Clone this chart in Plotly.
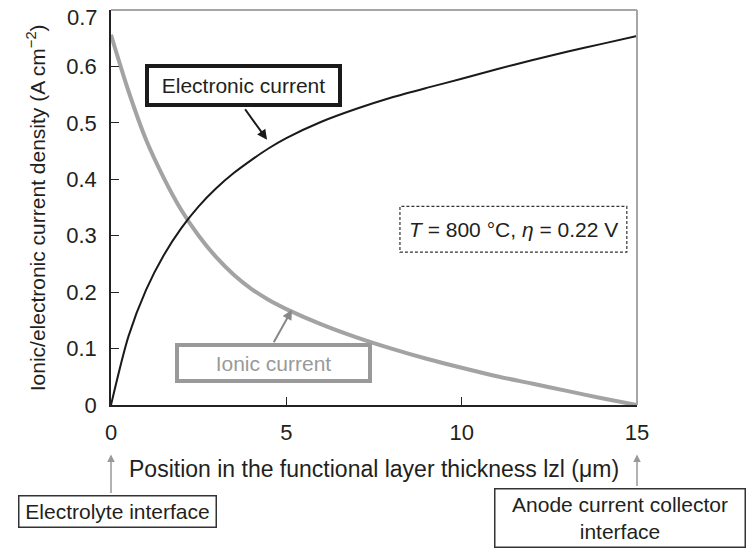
import plotly.graph_objects as go

# ---- data ----
x_pos = [0, 0.5, 1, 1.5, 2, 2.5, 3, 3.5, 4, 4.5, 5, 6, 7, 8, 9, 10, 11, 12, 13, 14, 15]
ionic = [0.656, 0.556, 0.470, 0.403, 0.346, 0.300, 0.262, 0.231, 0.206, 0.186, 0.170,
         0.143, 0.120, 0.100, 0.082, 0.066, 0.051, 0.038, 0.025, 0.012, 0.0]
electronic = [0.0, 0.122, 0.204, 0.265, 0.313, 0.352, 0.384, 0.411, 0.434, 0.455, 0.473,
              0.502, 0.525, 0.545, 0.562, 0.578, 0.595, 0.611, 0.626, 0.640, 0.654]

x_ticks = [0, 5, 10, 15]
y_ticks = [0, 0.1, 0.2, 0.3, 0.4, 0.5, 0.6, 0.7]
y_ticklabels = ["0", "0.1", "0.2", "0.3", "0.4", "0.5", "0.6", ""]
top_label = "0.7"

FONT = "Arial, Liberation Sans, sans-serif"
TXT = "#231f20"
GRAY = "#a3a3a3"
FRAME = "#a6a6a6"
FS = 21

fig = go.Figure()
fig.add_trace(go.Scatter(x=x_pos, y=ionic, mode="lines",
                         line=dict(color=GRAY, width=4, shape="spline", smoothing=0.8),
                         name="Ionic current", showlegend=False))
fig.add_trace(go.Scatter(x=x_pos, y=electronic, mode="lines",
                         line=dict(color="#1a1a1a", width=2, shape="spline", smoothing=0.8),
                         name="Electronic current", showlegend=False))

YR = [0, 0.7]
fig.update_layout(
    width=749, height=552,
    margin=dict(l=111, r=112, t=10, b=147),
    paper_bgcolor="white", plot_bgcolor="white",
    font=dict(family=FONT, color=TXT, size=FS),
    xaxis=dict(range=[0, 15], tickvals=x_ticks, ticks="inside", ticklen=8, tickwidth=1.2,
               tickcolor="#222", showline=True, linecolor="#222", linewidth=1.5,
               showgrid=False, zeroline=False, tickfont=dict(size=22, color=TXT),
               ticklabelstandoff=7),
    yaxis=dict(range=YR, tickvals=y_ticks, ticktext=y_ticklabels, ticks="inside", ticklen=8,
               tickwidth=1.2, tickcolor="#222", showline=True, linecolor="#222", linewidth=1.5,
               showgrid=False, zeroline=False, tickfont=dict(size=22, color=TXT),
               ticklabelstandoff=8),
)

# gray top and right frame lines
fig.add_shape(type="line", xref="paper", yref="paper", x0=0, x1=1, y0=1, y1=1,
              line=dict(color=FRAME, width=2))
fig.add_shape(type="line", xref="paper", yref="paper", x0=1, x1=1, y0=0, y1=1,
              line=dict(color=FRAME, width=2))

# top y tick label (sits just below the frame in the reference)
fig.add_annotation(text=top_label, xref="paper", yref="paper", x=-0.021, y=0.982,
                   xanchor="right", yanchor="middle", showarrow=False,
                   font=dict(size=22, color=TXT))

# axis titles
fig.add_annotation(text="Ionic/electronic current density (A cm<sup>−2</sup>)", xref="paper", yref="paper",
                   x=-0.143, y=0.5, textangle=-90, showarrow=False, font=dict(size=FS, color=TXT),
                   xanchor="center", yanchor="middle")
fig.add_annotation(text="Position in the functional layer thickness lzl (μm)", xref="paper", yref="paper",
                   x=0.5, y=-0.163, showarrow=False, font=dict(size=23, color=TXT),
                   xanchor="center", yanchor="middle")

# Electronic current label + arrow
fig.add_annotation(text="Electronic current", x=3.78, y=0.567, showarrow=False,
                   xanchor="center", yanchor="middle",
                   bordercolor="#1a1a1a", borderwidth=4, borderpad=1, bgcolor="white",
                   width=187, height=33, font=dict(size=FS, color=TXT))
fig.add_annotation(text="", x=4.45, y=0.47, ax=-23, ay=-32, showarrow=True,
                   arrowhead=2, arrowsize=1, arrowwidth=2, arrowcolor="#1a1a1a")

# Ionic current label + arrow
fig.add_annotation(text="Ionic current", x=4.62, y=0.075, showarrow=False,
                   xanchor="center", yanchor="middle",
                   bordercolor="#999999", borderwidth=4, borderpad=1, bgcolor="white",
                   width=187, height=30, font=dict(size=FS, color="#9a9a9a"))
fig.add_annotation(text="", x=5.16, y=0.169, ax=-19, ay=34, showarrow=True,
                   arrowhead=2, arrowsize=1, arrowwidth=2, arrowcolor="#888888")

# condition box (dashed)
fig.add_shape(type="rect", x0=8.24, x1=14.71, y0=0.271, y1=0.352,
              line=dict(color="#333333", width=1.2, dash="3px,2px"), fillcolor="rgba(0,0,0,0)")
fig.add_annotation(text="<i>T</i> = 800 °C, <i>η</i> = 0.22 V", x=11.48, y=0.3115, showarrow=False,
                   xanchor="center", yanchor="middle", font=dict(size=FS, color=TXT))

# Electrolyte interface
fig.add_annotation(text="Electrolyte interface", xref="paper", yref="paper", x=0.012, y=-0.2685,
                   xanchor="center", yanchor="middle",
                   showarrow=False, bordercolor="#333333", borderwidth=1.5, borderpad=1,
                   bgcolor="white", width=194, height=28, font=dict(size=FS, color=TXT))
fig.add_annotation(text="", xref="paper", yref="paper", x=0, y=-0.125, ax=0, ay=40, showarrow=True,
                   arrowhead=2, arrowsize=1, arrowwidth=1.5, arrowcolor="#999999")

# Anode current collector interface
fig.add_annotation(text="Anode current collector<br>interface", xref="paper", yref="paper",
                   x=0.9677, y=-0.285, xanchor="center", yanchor="middle",
                   showarrow=False, bordercolor="#333333", borderwidth=1.5,
                   borderpad=1, bgcolor="white", width=247, height=55, font=dict(size=FS, color=TXT))
fig.add_annotation(text="", xref="paper", yref="paper", x=1, y=-0.125, ax=0, ay=33, showarrow=True,
                   arrowhead=2, arrowsize=1, arrowwidth=1.5, arrowcolor="#999999")

fig.write_html("out.html")
